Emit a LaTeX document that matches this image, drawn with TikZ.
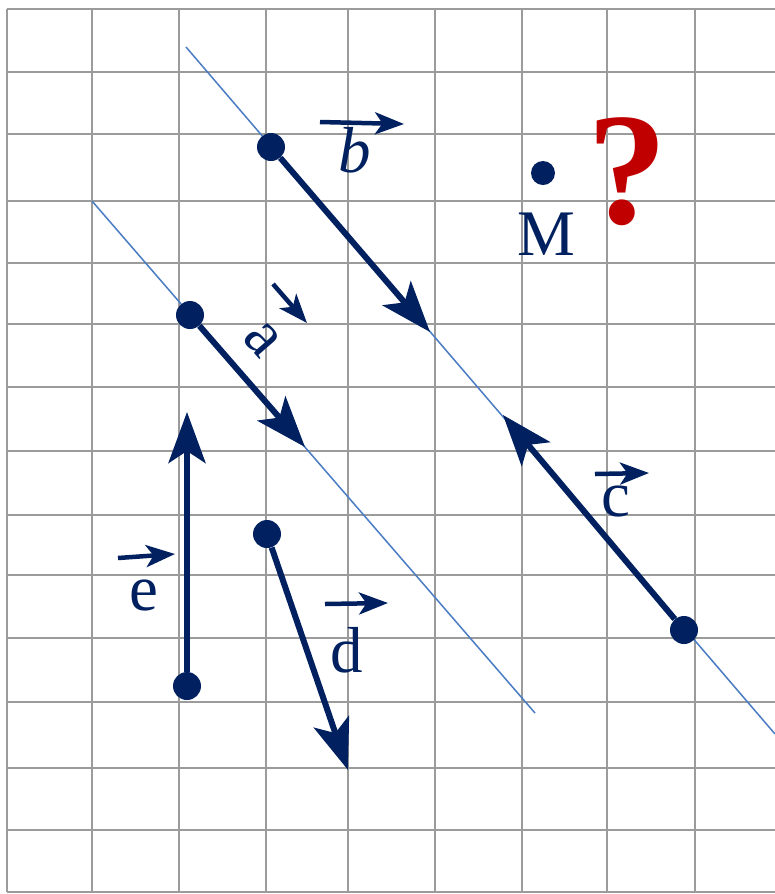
\documentclass[tikz,border=0pt]{standalone}
\usepackage{fontspec}
\setmainfont{Liberation Serif}
\usetikzlibrary{arrows.meta}
\definecolor{navy}{HTML}{002060}
\definecolor{darkred}{HTML}{C00000}
\definecolor{lineblue}{HTML}{4A7CC4}
\definecolor{gridgray}{HTML}{9B9B9B}
\tikzset{
    vec/.style={line width=0.12cm, navy, -{Stealth[length=1.02cm, width=0.74cm, inset=0.24cm]}},
    vecbar/.style={line width=0.09cm, navy, -{Stealth[length=0.58cm, width=0.44cm, inset=0.15cm]}},
    dot/.style={circle, fill=navy, inner sep=0pt, minimum size=0.56cm},
    lab/.style={text=navy, inner sep=0pt, font=\fontsize{37}{40}\selectfont},
    thinline/.style={lineblue, line width=0.03cm},
}
\begin{document}
\begin{tikzpicture}[x=0.02cm, y=-0.02cm]
    \useasboundingbox (0,0) rectangle (775,894);
    \foreach \x in {7,92,179,266,348,435,522,607,695}
        \draw[gridgray, line width=0.035cm] (\x,9) -- (\x,892);
    \foreach \y in {9,72,134,201,263,324,387,451,515,575,638,702,768,830,892}
        \draw[gridgray, line width=0.035cm] (7,\y) -- (775,\y);
    \coordinate (p1) at (186,47);
    \coordinate (q1) at (775,734);
    \coordinate (p2) at (92,201);
    \coordinate (q2) at (535,713);
    \draw[thinline] (p1) -- (q1);
    \draw[thinline] (p2) -- (q2);
    \node[dot] (bS) at (271,147) {};
    \node[dot] (aS) at (190,315) {};
    \node[dot] (cS) at (684,630) {};
    \node[dot] (dS) at (267,534) {};
    \node[dot] (eS) at (187,686) {};
    \coordinate (bE) at (430,332);
    \coordinate (aE) at (305,447);
    \coordinate (cE) at (503,415);
    \coordinate (dE) at (348,770);
    \coordinate (eE) at (187,412);
    \draw[vec] (bS) -- (bE);
    \draw[vec] (aS) -- (aE);
    \draw[vec] (cS) -- (cE);
    \draw[vec] (dS) -- (dE);
    \draw[vec] (eS) -- (eE);
    \node[lab] (lb) at (355,150) {\textit{b}};
    \draw[vecbar] ([shift={(-35,-28)}]lb.center) -- ([shift={(49,-26)}]lb.center);
    \node[lab, rotate=-49] (la) at (262,340) {a};
    \draw[vecbar] ([shift={(11,-56)}]la.center) -- ([shift={(45,-17)}]la.center);
    \node[lab] (lc) at (616,501) {c};
    \draw[vecbar] ([shift={(-21,-27)}]lc.center) -- ([shift={(33,-28)}]lc.center);
    \node[lab] (ld) at (347,650) {d};
    \draw[vecbar] ([shift={(-22,-46)}]ld.center) -- ([shift={(41,-47)}]ld.center);
    \node[lab] (le) at (144,595) {e};
    \draw[vecbar] ([shift={(-26,-37)}]le.center) -- ([shift={(31,-41)}]le.center);
    \node[dot, minimum size=0.48cm] (m) at (543,173) {};
    \node[lab] (lm) at (546,234) {M};
    \node[text=darkred, inner sep=0pt, font=\fontsize{91}{95}\selectfont\bfseries] (qm) at (627,172) {?};
\end{tikzpicture}
\end{document}
